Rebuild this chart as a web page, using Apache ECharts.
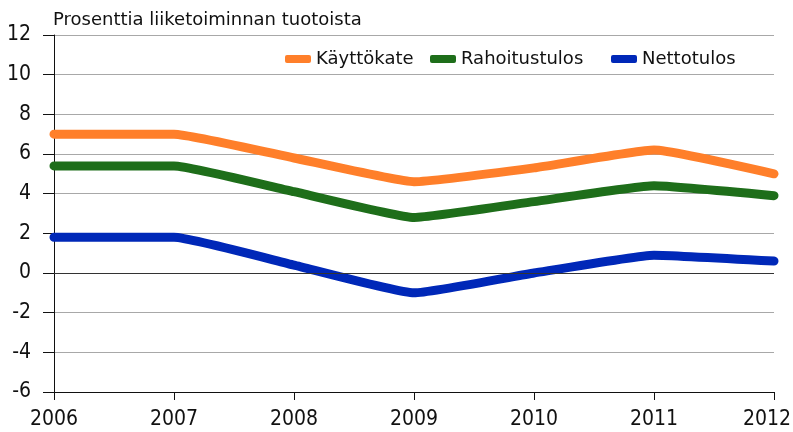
<!DOCTYPE html>
<html lang="fi">
<head>
    <meta charset="UTF-8">
    <title>Prosenttia liiketoiminnan tuotoista</title>
    <script src="https://cdn.jsdelivr.net/npm/echarts@6.0.0/dist/echarts.min.js"></script>
    <style>
        html, body { margin: 0; padding: 0; background: #fff; }
        #chart { width: 793px; height: 432px; }
    </style>
</head>
<body>
    <div id="chart"></div>
    <script>
        // vuodet
        const years = ['2006', '2007', '2008', '2009', '2010', '2011', '2012'];
        // sarjat (% liiketoiminnan tuotoista)
        const kayttokate = [7.0, 7.0, 5.8, 4.6, 5.3, 6.2, 5.0];
        const rahoitustulos = [5.4, 5.4, 4.1, 2.8, 3.6, 4.4, 3.9];
        const nettotulos = [1.8, 1.8, 0.4, -1.0, 0.0, 0.9, 0.6];

        const textFont = 'DejaVu Sans, Verdana, sans-serif';
        const axisFont = 'DejaVu Sans Condensed, sans-serif';
        const chart = echarts.init(document.getElementById('chart'));

        function lineSeries(name, data, color) {
            return {
                name: name,
                type: 'line',
                data: data,
                smooth: 0.12,
                symbol: 'none',
                lineStyle: { width: 9, color: color, cap: 'round', join: 'round' },
                itemStyle: { color: color },
                z: 3
            };
        }

        // yksi selite per sarja, jotta välit vastaavat alkuperäistä
        function legendItem(name, left) {
            return {
                left: left,
                top: 50,
                padding: 0,
                itemWidth: 26,
                itemHeight: 8,
                icon: 'roundRect',
                textStyle: { fontFamily: textFont, fontSize: 18, color: '#111' },
                data: [name]
            };
        }

        chart.setOption({
            animation: false,
            title: {
                text: 'Prosenttia liiketoiminnan tuotoista',
                left: 53,
                top: 11,
                padding: 0,
                textStyle: { fontFamily: textFont, fontSize: 18, fontWeight: 'normal', color: '#111' }
            },
            legend: [
                legendItem('Käyttökate', 285),
                legendItem('Rahoitustulos', 430),
                legendItem('Nettotulos', 611)
            ],
            grid: { left: 54, right: 19, top: 35, bottom: 40, outerBoundsMode: 'none', containLabel: false },
            xAxis: {
                type: 'category',
                data: years,
                boundaryGap: false,
                axisLine: { onZero: false, lineStyle: { color: '#111', width: 1 } },
                axisTick: { length: 8, interval: 0, lineStyle: { color: '#111' } },
                axisLabel: {
                    interval: 0,
                    hideOverlap: false,
                    fontFamily: axisFont,
                    fontSize: 21,
                    color: '#111',
                    margin: 17,
                    // viimeinen vuosi hieman vasemmalle, ettei leikkaudu
                    formatter: (v, i) => i === years.length - 1 ? '{last|' + v + '}' : v,
                    rich: {
                        last: { fontFamily: axisFont, fontSize: 21, color: '#111', padding: [0, 14, 0, 0] }
                    }
                },
                splitLine: { show: false }
            },
            yAxis: {
                type: 'value',
                min: -6,
                max: 12,
                interval: 2,
                axisLine: { show: true, lineStyle: { color: '#111', width: 1 } },
                axisTick: { show: true, length: 11, lineStyle: { color: '#111' } },
                axisLabel: { fontFamily: axisFont, fontSize: 21, color: '#111', margin: 23 },
                splitLine: { lineStyle: { color: '#a8a8a8', width: 1 } }
            },
            series: [
                {
                    name: 'nolla',
                    type: 'line',
                    data: [],
                    silent: true,
                    z: 1,
                    markLine: {
                        silent: true,
                        symbol: 'none',
                        label: { show: false },
                        lineStyle: { color: '#333', width: 1, type: 'solid' },
                        data: [{ yAxis: 0 }]
                    }
                },
                lineSeries('Käyttökate', kayttokate, '#ff7f2a'),
                lineSeries('Rahoitustulos', rahoitustulos, '#1e6e1a'),
                lineSeries('Nettotulos', nettotulos, '#0028b8')
            ]
        });
    </script>
</body>
</html>
